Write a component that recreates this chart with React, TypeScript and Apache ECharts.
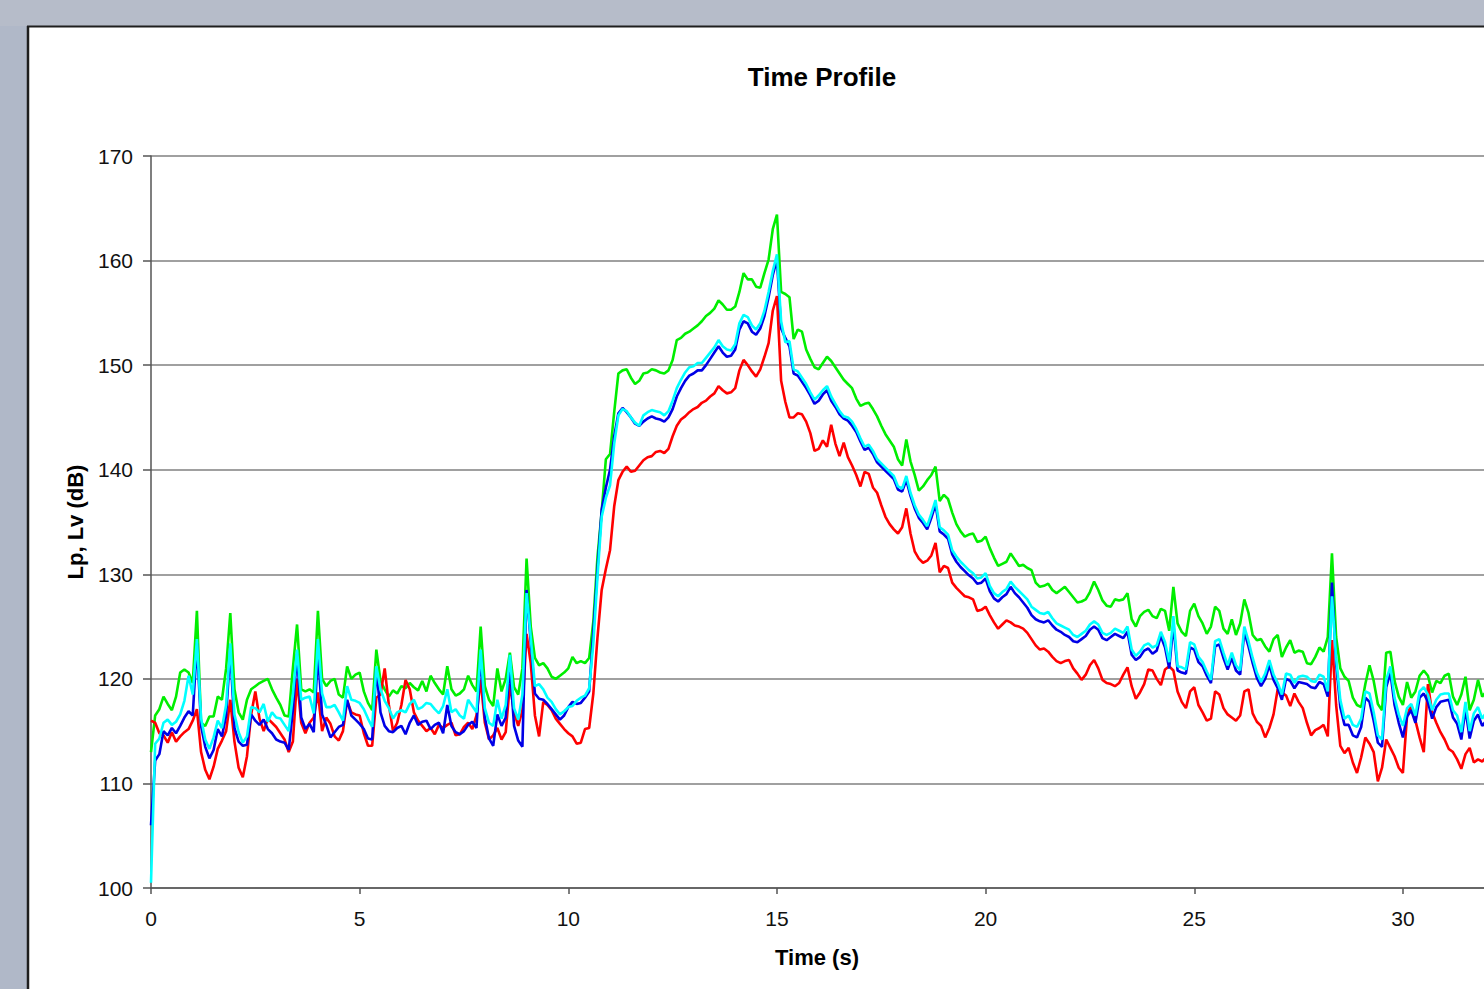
import React, { useEffect, useRef } from "react";
import * as echarts from "echarts";

// Sampling grid of the recorded profile (seconds)
const T_START = 0;
const T_STEP = 0.1;

const X_TICKS = [0, 5, 10, 15, 20, 25, 30];
const Y_TICKS = [100, 110, 120, 130, 140, 150, 160, 170];

const GREEN = [
  113, 116.5, 117.1, 118.3, 117.6, 117, 118.3, 120.6, 120.9, 120.6,
  119.6, 126.5, 115.8, 115.5, 116.4, 116.4, 118.3, 118, 121, 126.3,
  119, 116.8, 116.1, 118, 119, 119.3, 119.6, 119.8, 120, 119,
  118.2, 117.5, 116.5, 116.4, 121, 125.2, 119, 118.8, 119, 118.7,
  126.5, 120, 119.3, 119.8, 120, 118.5, 118.2, 121.2, 120, 120.4,
  120.6, 118.8, 117.7, 117, 122.8, 119.8, 119, 118.3, 118.9, 118.6,
  119.3, 119.1, 119.6, 119.2, 118.9, 119.8, 118.8, 120.3, 119.6, 119,
  118.5, 121.2, 119, 118.4, 118.6, 119, 120.3, 119.4, 118.8, 125,
  119.3, 118, 117.4, 121, 118.8, 120, 122.5, 119.2, 118.5, 121,
  131.5, 125, 122, 121.3, 121.5, 121, 120.2, 120, 120.3, 120.6,
  121, 122.1, 121.5, 121.7, 121.5, 122, 125.5, 131.7, 136, 141,
  141.5, 145.5, 149.2, 149.5, 149.6, 148.8, 148.2, 148.5, 149.2, 149.3,
  149.6, 149.5, 149.3, 149.2, 149.5, 150.5, 152.4, 152.6, 153, 153.2,
  153.5, 153.8, 154.2, 154.7, 155, 155.4, 156.2, 155.8, 155.3, 155.3,
  155.6, 157, 158.8, 158.2, 158.2, 157.5, 157.4, 158.8, 160.1, 163,
  164.4, 157, 156.8, 156.5, 152.5, 153.4, 153.2, 151.5, 150.6, 149.8,
  149.6, 150.2, 150.8, 150.4, 149.8, 149.2, 148.6, 148.2, 147.8, 146.8,
  146.1, 146.3, 146.4, 145.8, 145.1, 144.2, 143.4, 142.8, 142.2, 141,
  140.4, 142.9, 140.8, 139.5, 138, 138.4, 139, 139.5, 140.3, 137,
  137.6, 137.2, 135.9, 134.8, 134.1, 133.6, 133.8, 133.9, 133.1, 133.2,
  133.6, 132.5, 131.6, 130.8, 131, 131.2, 132, 131.4, 130.8, 130.9,
  130.6, 130.4, 129.2, 128.8, 128.9, 129.1, 128.5, 128.2, 128.5, 128.8,
  128.3, 127.8, 127.3, 127.4, 127.6, 128.3, 129.3, 128.5, 127.5, 127,
  126.9, 127.6, 127.5, 127.6, 128.2, 125.7, 125, 126, 126.4, 126.6,
  126, 125.8, 126.7, 126.5, 124.6, 128.8, 125.3, 124.5, 124.1, 126.5,
  127.2, 126, 125.3, 124.3, 125, 126.9, 126.5, 124.8, 124.3, 125.7,
  124.2, 125.3, 127.6, 126.3, 124.2, 123.7, 123.8, 123.1, 122.6, 123.8,
  124.2, 122.1, 123, 123.7, 122.5, 122.7, 122.6, 121.5, 121.4, 122.1,
  123, 122.6, 124, 132, 124, 121, 120.2, 119.8, 118.2, 117.5,
  117.3, 119.5, 121.3, 119.8, 117.6, 117, 122.5, 122.6, 119.8, 118.3,
  117.5, 119.7, 118.2, 118.8, 120.3, 120.8, 120.3, 118.7, 119.8, 119.6,
  120.3, 120.5, 118.3, 117.5, 118.5, 120.2, 117, 118, 119.9, 118.3,
  118.8, 119.2, 118.5,
];

const CYAN = [
  100.5, 113.8, 114.3, 115.8, 116.1, 115.6, 115.9, 116.6, 117.9, 120.3,
  118.5, 123.8, 116.2, 114.2, 113.3, 114.4, 116, 115.3, 117.5, 123.4,
  116.6, 114.9, 113.9, 114.5, 117.3, 117.2, 116.8, 117.6, 115.9, 116.8,
  116.3, 116.2, 115.6, 115, 118.5, 122.8, 118, 118.2, 118.3, 116.7,
  123.8, 118.6, 117.3, 117.3, 117.5, 116.8, 116, 119.3, 118, 117.9,
  117.7, 117.1, 116.2, 115.4, 121.2, 119, 117.9, 117.2, 116.2, 116.8,
  117, 116.8, 117.6, 118, 117.1, 117.3, 117.7, 117.6, 117.1, 116.7,
  117.4, 119, 116.8, 117.1, 116.5, 116.2, 118, 117.4, 116.8, 122.8,
  117.2, 115.8, 115.5, 118, 116.2, 117.5, 122.3, 117.2, 116.1, 118.5,
  128.2, 124, 119.3, 119.5, 119, 118.2, 117.8, 117.1, 116.6, 116.9,
  117.3, 117.4, 117.9, 118.2, 118.4, 119.1, 123.4, 129.8, 135.5, 137.3,
  138.5, 142.5, 145.2, 145.8, 145.6, 145, 144.5, 144.2, 145.2, 145.5,
  145.7, 145.6, 145.5, 145.2, 145.6, 146.6, 147.8, 148.6, 149.3, 149.8,
  149.9, 150.2, 150.2, 150.7, 151.2, 151.7, 152.4, 151.8, 151.5, 151.4,
  152, 154, 154.8, 154.6, 153.8, 153.4, 154, 155.2, 157, 159,
  160.6, 154.2, 152.2, 152.3, 149.6, 149.4, 148.8, 148.2, 147.4, 146.7,
  147.1, 147.6, 148, 147, 146.3, 145.6, 145.1, 145, 144.6, 143.9,
  143, 142.2, 142.4, 141.8, 141, 140.6, 140.2, 139.8, 139.4, 138.4,
  138.2, 139.4, 137.8, 136.6, 135.7, 135.2, 134.6, 135.8, 137.1, 134.5,
  134.2, 133.8, 132.3, 131.7, 131.2, 130.8, 130.4, 130.1, 129.6, 129.7,
  130.1, 128.9, 128.2, 127.9, 128.3, 128.6, 129.3, 128.8, 128.4, 128,
  127.6, 126.9, 126.6, 126.3, 126.2, 126.4, 125.8, 125.3, 125.1, 124.9,
  124.7, 124.2, 124, 124.3, 124.6, 125.2, 125.5, 125.2, 124.4, 124.2,
  124.4, 124.8, 124.6, 124.4, 125, 122.8, 122.2, 122.6, 123.2, 123.4,
  123, 123.2, 124.5, 123.5, 121.6, 126, 121.2, 121.1, 120.9, 123.5,
  123.3, 122.1, 121.6, 120.7, 119.9, 123.6, 123.8, 122.5, 121.3, 122.5,
  121.3, 120.8, 125, 123.6, 122, 120.6, 119.7, 120.5, 121.8, 120.4,
  119.6, 118.5, 120.5, 120.4, 119.6, 120.2, 120.3, 120.2, 119.8, 119.7,
  120.4, 120.2, 118.8, 127.9, 122, 118, 116.2, 116.5, 115.6, 115.4,
  116.2, 118.8, 118.6, 116.8, 114.6, 114.2, 119.9, 121.2, 118.2, 116.6,
  115.5, 117.2, 117.6, 116.5, 118.8, 119.2, 118.5, 117, 118, 118.5,
  118.6, 118.6, 117, 116.5, 114.9, 117.8, 115, 116.7, 117.3, 116.2,
  116.8, 117.2, 116.6,
];

const BLUE = [
  106, 112.2, 112.8, 115, 114.6, 115.3, 114.8, 115.5, 116.3, 116.9,
  116.5, 123.4, 115.5, 113.5, 112.4, 113.2, 115.2, 114.5, 116.5, 122.8,
  115.3, 114, 113.6, 113.7, 116.6, 116, 115.6, 116.1, 115.2, 114.8,
  114.2, 114, 113.9, 113.2, 117, 122.4, 116.3, 115.2, 115.7, 114.9,
  122.5, 116.6, 115.6, 114.4, 114.9, 115.4, 115.6, 118, 116.5, 116.1,
  115.7, 115.2, 114.3, 114.2, 121, 116.8, 115.5, 115, 114.9, 115.3,
  115.5, 114.7, 115.8, 116.5, 115.6, 115.9, 116, 115.2, 115.6, 115.8,
  114.8, 117.5, 115.5, 114.9, 114.7, 115, 115.6, 115.9, 115.3, 122.4,
  116.3, 114.3, 113.6, 116.6, 115.5, 116.3, 121.3, 115.5, 114.1, 113.5,
  128.5, 123.5, 118.6, 118.1, 118, 117.6, 117.1, 116.6, 116.1, 116.5,
  117.3, 117.8, 117.6, 117.7, 118.2, 118.8, 124.5, 130.5, 136.2, 138.3,
  140, 143.2, 145.4, 145.9, 145.5, 145, 144.4, 144.2, 144.6, 144.9,
  145.1, 144.9, 144.8, 144.6, 145, 145.8, 147, 147.8, 148.5, 149,
  149.2, 149.5, 149.5, 150, 150.6, 151.2, 151.8, 151.2, 150.8, 150.9,
  151.5, 153.4, 154.2, 154, 153.2, 152.9, 153.5, 154.7, 156.5, 158.6,
  160.1, 153.5, 152.6, 151.8, 149.2, 149, 148.4, 147.8, 147.1, 146.3,
  146.6, 147.2, 147.6, 146.6, 146, 145.3, 144.9, 144.7, 144.2, 143.6,
  142.7, 141.9, 142.1, 141.5, 140.7, 140.3, 139.9, 139.5, 139.1, 138.1,
  137.9, 139, 137.5, 136.3, 135.4, 134.9, 134.3, 135.4, 136.7, 134.1,
  133.8, 133.4, 131.9, 131.2, 130.7, 130.3, 129.9, 129.6, 129.1, 129.2,
  129.6, 128.4, 127.7, 127.4, 127.8, 128.1, 128.8, 128.2, 127.8, 127.3,
  126.8, 126.1, 125.7, 125.5, 125.4, 125.6, 125.1, 124.7, 124.5, 124.2,
  124, 123.6, 123.5, 123.8, 124.1, 124.7, 125, 124.7, 123.9, 123.7,
  124, 124.3, 124.1, 123.9, 124.5, 122.3, 121.8, 122.1, 122.7, 122.9,
  122.4, 122.7, 124.1, 123, 121, 125.2, 120.8, 120.6, 120.5, 123,
  122.8, 121.6, 121.2, 120.3, 119.6, 123.1, 123.3, 122, 120.9, 122,
  120.8, 120.4, 124.5, 123.1, 121.5, 120.1, 119.3, 120, 121.3, 119.9,
  119.1, 118, 120, 119.8, 119.1, 119.7, 119.6, 119.5, 119.2, 119.1,
  119.7, 119.5, 118.3, 129.2, 121.4, 117.3, 115.6, 115.6, 114.6, 114.4,
  115.4, 118.2, 117.8, 116, 113.9, 113.5, 119.2, 120.6, 117.5, 115.8,
  114.4, 116.4, 117, 115.8, 118.2, 118.6, 117.8, 116.2, 117.3, 117.8,
  117.9, 118, 116.3, 115.7, 114.2, 117.1, 114.3, 116, 116.6, 115.5,
  116, 116.4, 115.9,
];

const RED = [
  116, 115.8, 114.8, 114.6, 113.9, 114.9, 114, 114.5, 114.9, 115.2,
  116, 117.1, 113, 111.3, 110.4, 111.6, 113.3, 114.1, 115, 118,
  114, 111.5, 110.6, 112.6, 116.6, 118.8, 116.2, 115, 116.2, 115.8,
  115.4, 114.8, 114.2, 113, 114, 120, 115.8, 114.8, 115.8, 116.3,
  118.7, 115, 116.3, 115.7, 114.5, 114.1, 115, 117.9, 116.8, 116.6,
  116.5, 114.8, 113.6, 113.6, 118.2, 118.5, 121, 117.5, 115, 115.8,
  117.5, 119.9, 119, 116.8, 116, 115.5, 115, 115.3, 114.7, 115.6,
  115.3, 115.6, 115.8, 114.6, 114.7, 115.4, 115.8, 115.2, 116.5, 119.9,
  115.8, 114.2, 114.6, 115.3, 114.2, 114.9, 119.5, 116.8, 115.5, 117,
  124.3, 121.5, 116.5, 114.5, 117.8, 117.5, 117, 116.2, 115.7, 115.2,
  114.8, 114.5, 113.8, 113.9, 115.2, 115.3, 118.6, 124, 128.5, 130.5,
  132.3, 136.5, 139, 139.8, 140.3, 139.8, 139.9, 140.4, 140.9, 141.2,
  141.3, 141.7, 141.8, 141.6, 142, 143.2, 144.2, 144.8, 145.1, 145.5,
  145.8, 146, 146.4, 146.6, 147, 147.3, 148, 147.6, 147.3, 147.4,
  147.8, 149.5, 150.5, 150, 149.4, 148.9, 149.6, 150.8, 152.1, 155.2,
  156.6, 148.5, 146.5, 145, 145, 145.4, 145.3, 144.6, 143.5, 141.8,
  142, 142.8, 142.2, 144.3, 142.5, 141.3, 142.6, 141.2, 140.4, 139.5,
  138.4, 139.8, 139.6, 138.3, 137.8, 136.6, 135.5, 134.8, 134.3, 133.9,
  134.5, 136.3, 133.9, 132.2, 131.5, 131.1, 131.3, 131.8, 133, 130.2,
  130.8, 130.6, 129.2, 128.7, 128.3, 127.9, 127.8, 127.6, 126.5, 126.6,
  126.9, 126.1, 125.4, 124.8, 125.2, 125.6, 125.4, 125.1, 125, 124.8,
  124.4, 123.8, 123.2, 122.8, 122.9, 122.6, 122.1, 121.7, 121.5, 121.7,
  121.8, 121, 120.5, 119.9, 120.4, 121.3, 121.8, 121, 119.9, 119.6,
  119.5, 119.3, 119.6, 120.4, 121.1, 119.3, 118.1, 118.7, 119.5, 120.9,
  120.8, 120, 119.4, 120.9, 121.2, 120.8, 118.8, 117.8, 117.2, 118.8,
  119.2, 117.5, 116.8, 116, 116.2, 118.8, 118.5, 117.2, 116.6, 116.3,
  116, 116.5, 118.8, 119, 116.7, 115.9, 115.5, 114.4, 115.3, 116.6,
  119, 118.7, 118.4, 117.4, 118.6, 117.8, 117.2, 115.8, 114.6, 115.1,
  115.3, 115.6, 114.5, 123.7, 117.5, 113.6, 112.9, 113.4, 112, 111,
  112.5, 114.4, 113.8, 113, 110.2, 111.5, 114.2, 113.4, 112.6, 111.5,
  111, 116.5, 117.5, 116, 114.4, 113, 119.5, 116.8, 115.8, 114.9,
  114.2, 113.3, 113, 112.3, 111.4, 112.8, 113.4, 112, 112.3, 112.1,
  112.5, 112.2, 112.6,
];

const SERIES = [
  { name: "Green", color: "#00ee00", values: GREEN },
  { name: "Red", color: "#ff0000", values: RED },
  { name: "Blue", color: "#0000e6", values: BLUE },
  { name: "Cyan", color: "#00ffff", values: CYAN },
];

const FONT = '"Liberation Sans", Arial, sans-serif';

function toPairs(values: number[]) {
  return values.map((v, i) => [Number((T_START + i * T_STEP).toFixed(2)), v]);
}

export default function App() {
  const ref = useRef<HTMLDivElement>(null);

  useEffect(() => {
    if (!ref.current) return;
    const chart = echarts.init(ref.current, undefined, { renderer: "svg" });
    const xMax = 35;
    const pxPerSec = 41.73;
    chart.setOption({
      animation: false,
      backgroundColor: "#ffffff",
      grid: {
        left: 151,
        top: 156,
        width: xMax * pxPerSec,
        height: 732,
        containLabel: false,
      },
      xAxis: {
        type: "value",
        min: 0,
        max: xMax,
        interval: 5,
        axisLine: { show: true, lineStyle: { color: "#555555", width: 1.5 } },
        axisTick: { show: true, inside: false, length: 6, lineStyle: { color: "#555555", width: 1.5 } },
        axisLabel: {
          fontSize: 21,
          color: "#111111",
          fontFamily: FONT,
          margin: 20,
          formatter: (v: number) => (X_TICKS.indexOf(v) >= 0 ? String(v) : ""),
        },
        splitLine: { show: false },
      },
      yAxis: {
        type: "value",
        min: Y_TICKS[0],
        max: Y_TICKS[Y_TICKS.length - 1],
        interval: 10,
        axisLine: { show: true, lineStyle: { color: "#555555", width: 1.5 } },
        axisTick: { show: true, inside: false, length: 8, lineStyle: { color: "#555555", width: 1.5 } },
        axisLabel: {
          fontSize: 21,
          color: "#111111",
          fontFamily: FONT,
          margin: 18,
        },
        splitLine: { show: true, lineStyle: { color: "#808080", width: 1.5 } },
      },
      series: SERIES.map((s) => ({
        name: s.name,
        type: "line",
        data: toPairs(s.values),
        showSymbol: false,
        symbol: "none",
        lineStyle: { color: s.color, width: 2.6 },
        itemStyle: { color: s.color },
        clip: true,
      })),
      graphic: [
        { type: "rect", shape: { x: 0, y: 0, width: 28, height: 1100 }, style: { fill: "#b0b8c8" } },
        { type: "rect", shape: { x: 0, y: 0, width: 1700, height: 26 }, style: { fill: "#b6bcc9" } },
        { type: "line", shape: { x1: 28, y1: 26, x2: 28, y2: 1100 }, style: { stroke: "#1e1e1e", lineWidth: 2.5 } },
        { type: "line", shape: { x1: 27, y1: 26.5, x2: 1700, y2: 26.5 }, style: { stroke: "#1e1e1e", lineWidth: 2 } },
        {
          type: "text",
          x: 822,
          y: 77,
          style: {
            text: "Time Profile",
            fontSize: 26,
            fontWeight: "bold",
            fontFamily: FONT,
            fill: "#000000",
            align: "center",
            verticalAlign: "middle",
          },
        },
        {
          type: "text",
          x: 817,
          y: 957,
          style: {
            text: "Time (s)",
            fontSize: 22,
            fontWeight: "bold",
            fontFamily: FONT,
            fill: "#000000",
            align: "center",
            verticalAlign: "middle",
          },
        },
        {
          type: "text",
          x: 75,
          y: 522,
          rotation: Math.PI / 2,
          style: {
            text: "Lp, Lv (dB)",
            fontSize: 22,
            fontWeight: "bold",
            fontFamily: FONT,
            fill: "#000000",
            align: "center",
            verticalAlign: "middle",
          },
        },
      ],
    });
    return () => chart.dispose();
  }, []);

  return (
    <div
      style={{
        position: "fixed",
        left: 0,
        top: 0,
        width: "100vw",
        height: "100vh",
        overflow: "hidden",
        background: "#b0b8c8",
      }}
    >
      <div ref={ref} style={{ position: "absolute", left: 0, top: 0, width: 1700, height: 1100 }} />
    </div>
  );
}
